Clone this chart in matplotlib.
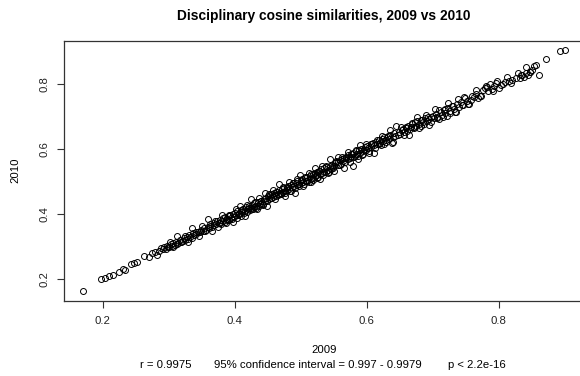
import matplotlib
matplotlib.use("Agg")
import matplotlib.pyplot as plt

plt.rcParams['font.family'] = ['Liberation Sans', 'DejaVu Sans']

title = "Disciplinary cosine similarities, 2009 vs 2010"
xlab = "2009"
ylab = "2010"
sub = ["r = 0.9975", "95% confidence interval = 0.997 - 0.9979", "p < 2.2e-16"]
ticks = [0.2, 0.4, 0.6, 0.8]

# cosine similarity per discipline, 2009 (x) vs 2010 (y)
x2009 = [0.170, 0.198, 0.203, 0.210, 0.216, 0.224, 0.231, 0.234, 0.243, 0.247,
         0.252, 0.262, 0.270, 0.274, 0.280, 0.283, 0.286,
         0.288, 0.291, 0.293, 0.296, 0.298, 0.299, 0.301, 0.303, 0.305, 0.306,
         0.309, 0.311, 0.312, 0.314, 0.317, 0.318, 0.321, 0.323, 0.324, 0.327,
         0.329, 0.331, 0.333, 0.335, 0.337, 0.339, 0.342, 0.344, 0.347, 0.349,
         0.352, 0.354, 0.357, 0.359,
         0.361, 0.363, 0.363, 0.366, 0.368, 0.369, 0.372, 0.373, 0.374, 0.377,
         0.378, 0.379, 0.382, 0.383, 0.385, 0.386, 0.388, 0.389, 0.391, 0.392,
         0.393, 0.395, 0.396, 0.398, 0.399, 0.400, 0.402, 0.403, 0.404, 0.406,
         0.407, 0.409, 0.410, 0.411, 0.413, 0.414, 0.416, 0.417, 0.418, 0.420,
         0.421, 0.423, 0.424, 0.426, 0.427, 0.429, 0.430, 0.432, 0.433, 0.435,
         0.437, 0.438, 0.440, 0.441, 0.443, 0.445, 0.446, 0.448,
         0.449, 0.451, 0.452, 0.453, 0.455, 0.456, 0.458, 0.459, 0.460, 0.462,
         0.463, 0.465, 0.466, 0.467, 0.469, 0.470, 0.472, 0.473, 0.474, 0.476,
         0.477, 0.479, 0.480, 0.481, 0.483, 0.484, 0.486, 0.487, 0.488, 0.490,
         0.491, 0.493, 0.494, 0.495, 0.497, 0.498, 0.500, 0.501, 0.502, 0.504,
         0.505, 0.507, 0.508, 0.509, 0.511, 0.512, 0.514, 0.515, 0.516, 0.518,
         0.519, 0.521, 0.522, 0.524, 0.525, 0.527, 0.528, 0.530, 0.531, 0.533,
         0.534, 0.536, 0.538, 0.539, 0.541, 0.543, 0.544, 0.546, 0.548, 0.549,
         0.551, 0.552, 0.554, 0.556, 0.557, 0.559, 0.561, 0.562, 0.564, 0.566,
         0.567, 0.569, 0.571, 0.572, 0.574, 0.576, 0.577, 0.579, 0.580, 0.582,
         0.584, 0.585, 0.587, 0.589, 0.590, 0.592, 0.594, 0.595, 0.597, 0.599,
         0.600, 0.602, 0.604, 0.606, 0.607, 0.609, 0.611, 0.613, 0.614, 0.616,
         0.618, 0.620, 0.621, 0.623, 0.625, 0.627, 0.629, 0.630, 0.632, 0.634,
         0.636, 0.638, 0.640, 0.641, 0.643, 0.645, 0.647, 0.649,
         0.651, 0.653, 0.655, 0.657, 0.659, 0.661, 0.663, 0.665, 0.667, 0.669,
         0.671, 0.673, 0.675, 0.677, 0.680, 0.682, 0.684, 0.686, 0.688, 0.691,
         0.693, 0.695, 0.697, 0.700, 0.702, 0.705, 0.707, 0.709, 0.712, 0.714,
         0.717, 0.719, 0.722, 0.724, 0.727, 0.729, 0.732, 0.735, 0.737, 0.740,
         0.743, 0.746, 0.749, 0.752, 0.755,
         0.758, 0.762, 0.765, 0.768, 0.772, 0.776, 0.779, 0.781, 0.784, 0.787,
         0.790, 0.793, 0.796, 0.800, 0.803, 0.810, 0.815, 0.820, 0.826, 0.832,
         0.836, 0.839, 0.842, 0.845, 0.848, 0.851, 0.856, 0.861, 0.871, 0.893,
         0.901,
         # points lying off the centre of the band
         0.302, 0.307, 0.313, 0.319, 0.325, 0.330, 0.336, 0.341, 0.346, 0.350,
         0.355, 0.360, 0.365, 0.370, 0.376, 0.381, 0.387, 0.392, 0.397, 0.402,
         0.405, 0.408, 0.412, 0.415, 0.419, 0.422, 0.425, 0.428, 0.431, 0.434,
         0.437, 0.440, 0.443, 0.446, 0.449, 0.452, 0.455, 0.458, 0.461, 0.464,
         0.467, 0.470, 0.473, 0.476, 0.479, 0.482, 0.485, 0.488, 0.491, 0.494,
         0.497, 0.499, 0.503, 0.506, 0.509,
         0.512, 0.515, 0.518, 0.521, 0.524, 0.527, 0.530, 0.533, 0.536, 0.539,
         0.542, 0.545, 0.548, 0.551, 0.554, 0.557, 0.560, 0.563, 0.566, 0.569,
         0.572, 0.575, 0.578, 0.581, 0.584, 0.587, 0.590, 0.593, 0.596, 0.599,
         0.603, 0.607, 0.611, 0.615, 0.619, 0.623, 0.627, 0.631, 0.635, 0.640,
         0.652, 0.656, 0.660, 0.664, 0.668, 0.672, 0.676, 0.679, 0.683, 0.687,
         0.690, 0.694, 0.698, 0.703, 0.706, 0.710, 0.715, 0.718, 0.723, 0.726,
         0.731, 0.734, 0.739, 0.744, 0.748, 0.753, 0.760, 0.766, 0.774, 0.783,
         0.792, 0.798, 0.806, 0.812, 0.818, 0.829, 0.834, 0.841, 0.847, 0.853]

y2010 = [0.164, 0.200, 0.204, 0.209, 0.214, 0.222, 0.232, 0.228, 0.246, 0.249,
         0.252, 0.273, 0.270, 0.281, 0.283, 0.276, 0.287,
         0.296, 0.292, 0.299, 0.294, 0.303, 0.298, 0.300, 0.308, 0.302, 0.311,
         0.305, 0.316, 0.309, 0.312, 0.320, 0.314, 0.318, 0.327, 0.321, 0.329,
         0.324, 0.336, 0.330, 0.328, 0.342, 0.335, 0.339, 0.347, 0.344, 0.352,
         0.349, 0.357, 0.353, 0.362,
         0.358, 0.370, 0.364, 0.361, 0.373, 0.366, 0.369, 0.380, 0.362, 0.374,
         0.383, 0.371, 0.378, 0.388, 0.376, 0.392, 0.381, 0.387, 0.395, 0.383,
         0.398, 0.390, 0.386, 0.401, 0.393, 0.405, 0.397, 0.389, 0.409, 0.400,
         0.404, 0.413, 0.396, 0.408, 0.417, 0.403, 0.411, 0.421, 0.407, 0.415,
         0.425, 0.412, 0.419, 0.429, 0.416, 0.423, 0.434, 0.420, 0.427, 0.438,
         0.425, 0.431, 0.442, 0.436, 0.428, 0.447, 0.440, 0.451,
         0.442, 0.455, 0.447, 0.460, 0.450, 0.463, 0.452, 0.458, 0.467, 0.455,
         0.470, 0.461, 0.458, 0.474, 0.466, 0.462, 0.478, 0.469, 0.481, 0.471,
         0.466, 0.484, 0.476, 0.488, 0.479, 0.473, 0.491, 0.483, 0.495, 0.486,
         0.480, 0.497, 0.489, 0.502, 0.493, 0.487, 0.505, 0.497, 0.508, 0.499,
         0.494, 0.511, 0.503, 0.516, 0.506, 0.500, 0.519, 0.510, 0.524, 0.513,
         0.507, 0.526, 0.517, 0.530, 0.521, 0.514, 0.534, 0.524, 0.538, 0.528,
         0.522, 0.541, 0.531, 0.545, 0.536, 0.529, 0.549, 0.540, 0.553, 0.544,
         0.548, 0.557, 0.563, 0.552, 0.560, 0.566, 0.556, 0.570, 0.563, 0.574,
         0.560, 0.577, 0.569, 0.582, 0.573, 0.586, 0.575, 0.549, 0.590, 0.580,
         0.594, 0.585, 0.578, 0.598, 0.589, 0.602, 0.594, 0.587, 0.606, 0.598,
         0.611, 0.604, 0.596, 0.615, 0.608, 0.620, 0.612, 0.605, 0.624, 0.617,
         0.628, 0.620, 0.613, 0.632, 0.625, 0.637, 0.628, 0.621, 0.640, 0.633,
         0.645, 0.620, 0.637, 0.649, 0.642, 0.671, 0.645, 0.654,
         0.646, 0.658, 0.664, 0.652, 0.668, 0.657, 0.673, 0.662, 0.670, 0.678,
         0.667, 0.683, 0.673, 0.688, 0.679, 0.672, 0.691, 0.684, 0.695, 0.687,
         0.700, 0.692, 0.685, 0.704, 0.697, 0.710, 0.701, 0.693, 0.714, 0.707,
         0.720, 0.712, 0.704, 0.726, 0.718, 0.734, 0.724, 0.716, 0.738, 0.729,
         0.745, 0.735, 0.757, 0.748, 0.740,
         0.752, 0.760, 0.771, 0.757, 0.765, 0.782, 0.790, 0.794, 0.778, 0.800,
         0.786, 0.796, 0.803, 0.788, 0.797, 0.806, 0.811, 0.814, 0.821, 0.818,
         0.828, 0.823, 0.834, 0.829, 0.838, 0.843, 0.859, 0.829, 0.878, 0.903,
         0.905,
         # points lying off the centre of the band
         0.314, 0.298, 0.332, 0.315, 0.333, 0.314, 0.357, 0.344, 0.334, 0.365,
         0.349, 0.384, 0.348, 0.379, 0.374, 0.399, 0.373, 0.398, 0.376, 0.415,
         0.397, 0.425, 0.416, 0.395, 0.430, 0.419, 0.448, 0.415, 0.438, 0.416,
         0.451, 0.442, 0.433, 0.466, 0.427, 0.461, 0.450, 0.474, 0.446, 0.469,
         0.492, 0.461, 0.485, 0.457, 0.482, 0.500, 0.472, 0.496, 0.467, 0.509,
         0.493, 0.520, 0.487, 0.516, 0.502,
         0.526, 0.498, 0.524, 0.543, 0.513, 0.530, 0.509, 0.549, 0.530, 0.549,
         0.528, 0.570, 0.546, 0.532, 0.562, 0.575, 0.551, 0.575, 0.543, 0.573,
         0.592, 0.562, 0.585, 0.576, 0.599, 0.569, 0.613, 0.583, 0.598, 0.616,
         0.588, 0.616, 0.589, 0.628, 0.615, 0.642, 0.615, 0.637, 0.659, 0.624,
         0.670, 0.644, 0.665, 0.644, 0.681, 0.669, 0.698, 0.665, 0.691, 0.678,
         0.706, 0.676, 0.700, 0.723, 0.695, 0.721, 0.699, 0.724, 0.742, 0.713,
         0.734, 0.714, 0.754, 0.737, 0.760, 0.738, 0.764, 0.783, 0.764, 0.792,
         0.781, 0.811, 0.800, 0.822, 0.803, 0.836, 0.830, 0.853, 0.838, 0.856]

W, H = 580, 376
fig = plt.figure(figsize=(W / 100, H / 100), dpi=100)
# plot region in pixels (R style, right edge falls just off the picture)
left, right, top, bottom = 63.6, 584.6, 40.6, 300.6
ax = fig.add_axes([left / W, 1 - bottom / H, (right - left) / W, (bottom - top) / H])

ax.plot(x2009, y2010, linestyle='none', marker='o', ms=4.3,
        mfc='none', mec='black', mew=0.7)

# R pads the data range by 4%
xr = max(x2009) - min(x2009)
yr = max(y2010) - min(y2010)
ax.set_xlim(min(x2009) - 0.04 * xr, max(x2009) + 0.04 * xr)
ax.set_ylim(min(y2010) - 0.04 * yr, max(y2010) + 0.04 * yr)

fs = 8.2
ax.set_xticks(ticks)
ax.set_yticks(ticks)
ax.set_xticklabels([f"{t:.1f}" for t in ticks])
ax.set_yticklabels([f"{t:.1f}" for t in ticks], rotation=90, va='center')
ax.tick_params(direction='out', length=5, width=0.8, color='#333333',
               labelsize=fs, labelcolor='#222222')
ax.tick_params(axis='x', pad=6)
ax.tick_params(axis='y', pad=5)
for s in ax.spines.values():
    s.set_color('#333333')
    s.set_linewidth(0.9)

cx = (left + right) / 2
fig.text(cx / W, 1 - 16 / H, title, ha='center', va='center',
         fontsize=9.9, fontweight='bold')
fig.text(cx / W, 1 - 350 / H, xlab, ha='center', va='center', fontsize=fs)
fig.text(15 / W, 1 - (top + bottom) / 2 / H, ylab, ha='center', va='center',
         rotation=90, fontsize=fs)
fig.text(166 / W, 1 - 365 / H, sub[0], ha='center', va='center', fontsize=fs)
fig.text(318 / W, 1 - 365 / H, sub[1], ha='center', va='center', fontsize=fs)
fig.text(477 / W, 1 - 365 / H, sub[2], ha='center', va='center', fontsize=fs)

fig.savefig("out.png", dpi=100)
